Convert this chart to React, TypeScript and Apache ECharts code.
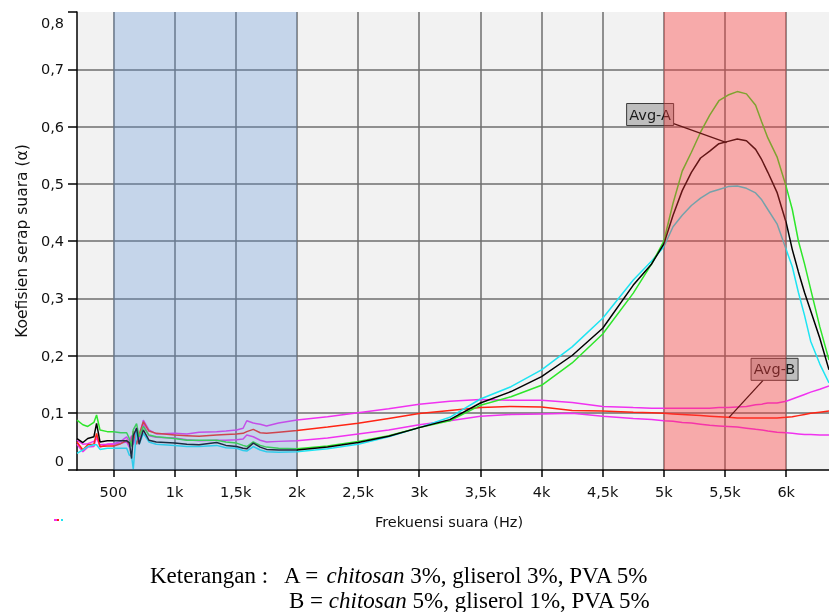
import React, { useEffect, useRef } from 'react';
import * as echarts from 'echarts';

// Frequency sample points (Hz)
const freqs = [202, 250, 290, 340, 362, 390, 450, 500, 560, 608,
  630, 648, 662, 689, 710, 744, 790, 850, 1000, 1100,
  1200, 1343, 1420, 1506, 1560, 1590, 1643, 1700, 1752, 1850,
  2000, 2250, 2500, 2750, 3000, 3250, 3500, 3750, 4000, 4250,
  4500, 4750, 4900, 5000, 5075, 5150, 5225, 5300, 5375, 5450,
  5525, 5600, 5675, 5750, 5800, 5850, 5925, 6000, 6050, 6100,
  6150, 6200, 6275, 6350];

// Sample A (green)
const sampleA1 = [0.087, 0.079, 0.076, 0.083, 0.096, 0.070, 0.067, 0.067, 0.065, 0.065,
  0.055, 0.041, 0.070, 0.081, 0.058, 0.076, 0.061, 0.058, 0.055, 0.052,
  0.052, 0.052, 0.049, 0.047, 0.043, 0.041, 0.049, 0.043, 0.040, 0.038,
  0.037, 0.042, 0.050, 0.060, 0.074, 0.086, 0.113, 0.128, 0.148, 0.187,
  0.2375, 0.309, 0.360, 0.400, 0.466, 0.522, 0.555, 0.590, 0.620, 0.645,
  0.655, 0.661, 0.657, 0.637, 0.608, 0.580, 0.547, 0.495, 0.455, 0.400,
  0.360, 0.316, 0.250, 0.192];

// Avg-A (black)
const avgA = [0.055, 0.048, 0.055, 0.058, 0.0815, 0.049, 0.051, 0.051, 0.051, 0.051,
  0.048, 0.020, 0.060, 0.073, 0.045, 0.070, 0.052, 0.049, 0.047, 0.045,
  0.044, 0.048, 0.043, 0.041, 0.038, 0.037, 0.047, 0.040, 0.036, 0.035,
  0.035, 0.040, 0.048, 0.059, 0.074, 0.088, 0.117, 0.137, 0.163, 0.200,
  0.2475, 0.323, 0.360, 0.395, 0.445, 0.488, 0.520, 0.545, 0.557, 0.570,
  0.574, 0.578, 0.575, 0.560, 0.542, 0.520, 0.485, 0.432, 0.385, 0.346,
  0.310, 0.278, 0.230, 0.175];

// Sample A (cyan)
const sampleA2 = [0.029, 0.035, 0.041, 0.044, 0.044, 0.036, 0.038, 0.038, 0.038, 0.038,
  0.026, 0.024, 0.002, 0.070, 0.045, 0.064, 0.049, 0.045, 0.043, 0.041,
  0.041, 0.043, 0.039, 0.038, 0.034, 0.033, 0.041, 0.035, 0.032, 0.031,
  0.032, 0.037, 0.045, 0.058, 0.074, 0.092, 0.124, 0.1455, 0.175, 0.215,
  0.265, 0.332, 0.365, 0.390, 0.425, 0.445, 0.462, 0.475, 0.485, 0.490,
  0.495, 0.496, 0.492, 0.484, 0.472, 0.455, 0.430, 0.385, 0.355, 0.310,
  0.270, 0.225, 0.185, 0.152];

// Sample B (upper magenta)
const sampleB1 = [0.052, 0.045, 0.046, 0.050, 0.055, 0.044, 0.045, 0.046, 0.050, 0.058,
  0.050, 0.060, 0.045, 0.065, 0.050, 0.087, 0.070, 0.063, 0.064, 0.063,
  0.066, 0.067, 0.068, 0.070, 0.073, 0.086, 0.082, 0.080, 0.077, 0.082,
  0.0875, 0.093, 0.100, 0.107, 0.115, 0.120, 0.123, 0.122, 0.122, 0.118,
  0.111, 0.109, 0.108, 0.108, 0.108, 0.108, 0.108, 0.108, 0.108, 0.109,
  0.109, 0.110, 0.111, 0.114, 0.115, 0.117, 0.117, 0.120, 0.124, 0.128,
  0.132, 0.136, 0.141, 0.147];

// Avg-B (red)
const avgB = [0.049, 0.035, 0.044, 0.045, 0.064, 0.041, 0.042, 0.042, 0.046, 0.052,
  0.045, 0.050, 0.068, 0.045, 0.062, 0.0845, 0.068, 0.064, 0.061, 0.060,
  0.059, 0.061, 0.062, 0.063, 0.064, 0.067, 0.071, 0.065, 0.064, 0.066,
  0.069, 0.075, 0.0815, 0.090, 0.0985, 0.104, 0.109, 0.111, 0.110, 0.104,
  0.103, 0.101, 0.100, 0.099, 0.098, 0.097, 0.096, 0.095, 0.094, 0.093,
  0.092, 0.091, 0.091, 0.091, 0.091, 0.091, 0.091, 0.092, 0.093, 0.095,
  0.097, 0.099, 0.101, 0.103];

// Sample B (lower magenta)
const sampleB2 = [0.045, 0.032, 0.040, 0.041, 0.060, 0.040, 0.045, 0.045, 0.047, 0.049,
  0.040, 0.058, 0.045, 0.075, 0.055, 0.080, 0.060, 0.057, 0.056, 0.053,
  0.051, 0.052, 0.052, 0.053, 0.054, 0.061, 0.058, 0.052, 0.049, 0.050,
  0.051, 0.056, 0.063, 0.070, 0.079, 0.086, 0.094, 0.097, 0.098, 0.099,
  0.094, 0.090, 0.088, 0.086, 0.085, 0.083, 0.082, 0.080, 0.078, 0.077,
  0.076, 0.075, 0.073, 0.071, 0.070, 0.068, 0.066, 0.065, 0.064, 0.063,
  0.062, 0.062, 0.061, 0.061];

const xTicks = [500, 1000, 1500, 2000, 2500, 3000, 3500, 4000, 4500, 5000, 5500, 6000];
const bandLow = [500, 2000];
const bandHigh = [5000, 6000];
const xMin = 202;
const xMax = 6350;
const yMax = 0.8;

// annotation anchors [freq, value]
const avgALabelAt = [5513, 0.572];
const avgBLabelAt = [5533, 0.092];

const SANS = '"DejaVu Sans", Verdana, sans-serif';
const SERIF = '"Liberation Serif", "Times New Roman", serif';
const FS = 14.5;

export default function App() {
  const ref = useRef<HTMLDivElement>(null);
  useEffect(() => {
    const chart = echarts.init(ref.current!, null, { renderer: 'svg' });
    const line = (name: string, vals: number[], color: string, z: number) => ({
      type: 'line',
      name,
      data: freqs.map((f, i) => [f, vals[i]]),
      symbol: 'none',
      showSymbol: false,
      silent: true,
      z,
      lineStyle: { color, width: 1.5 },
      itemStyle: { color },
    });
    const band = (range: number[], color: string) => ({
      type: 'line',
      data: [[range[0], yMax], [range[1], yMax]],
      symbol: 'none',
      showSymbol: false,
      silent: true,
      z: 10,
      lineStyle: { width: 0, opacity: 0 },
      areaStyle: { color, opacity: 1, origin: 'start' },
    });
    chart.setOption({
      animation: false,
      grid: { left: 77, right: 0, top: 12, bottom: 142, show: true, backgroundColor: '#f2f2f2', borderWidth: 0 },
      xAxis: {
        type: 'value',
        min: xMin,
        max: xMax,
        name: 'Frekuensi suara (Hz)',
        nameLocation: 'middle',
        nameGap: 44,
        nameTextStyle: { fontFamily: SANS, fontSize: FS, color: '#111', padding: [0, 8, 0, 0] },
        axisLine: { show: true, onZero: false, lineStyle: { color: '#000', width: 1.5 } },
        axisTick: { show: true, length: 7, customValues: xTicks, lineStyle: { color: '#000', width: 1.5 } },
        axisLabel: {
          customValues: xTicks,
          margin: 14,
          fontFamily: SANS,
          fontSize: FS,
          color: '#111',
          formatter: (v: number) => (v < 1000 ? String(v) : String(v / 1000).replace('.', ',') + 'k'),
        },
        splitLine: { show: true, lineStyle: { color: '#6e6e6e', width: 1.5 } },
      },
      yAxis: {
        type: 'value',
        min: 0,
        max: yMax,
        interval: 0.1,
        name: 'Koefisien serap suara (α)',
        nameLocation: 'middle',
        nameGap: 47,
        nameTextStyle: { fontFamily: SANS, fontSize: 15.5, color: '#111' },
        axisLine: { show: true, lineStyle: { color: '#000', width: 1.5 } },
        axisTick: { show: true, length: 9, lineStyle: { color: '#000', width: 1.5 } },
        axisLabel: {
          margin: 13,
          fontFamily: SANS,
          fontSize: FS,
          color: '#111',
          formatter: (v: number) => {
            if (Math.abs(v) < 1e-9) return '{lo|0}';
            const s = v.toFixed(1).replace('.', ',');
            if (Math.abs(v - yMax) < 1e-6) return '{hi|' + s + '}';
            return s;
          },
          rich: {
            lo: { fontFamily: SANS, fontSize: FS, color: '#111', padding: [0, 0, 18, 0] },
            hi: { fontFamily: SANS, fontSize: FS, color: '#111', padding: [22, 0, 0, 0] },
          },
        },
        splitLine: { show: true, showMinLine: false, showMaxLine: false, lineStyle: { color: '#6e6e6e', width: 1.5 } },
      },
      series: [
        line('B upper', sampleB1, '#f032f0', 2),
        line('B lower', sampleB2, '#f032f0', 2),
        line('Avg-B', avgB, '#ff2414', 3),
        line('A cyan', sampleA2, '#1ee4f2', 3),
        line('A green', sampleA1, '#2ee62a', 3),
        line('Avg-A', avgA, '#000000', 4),
        band(bandLow, 'rgba(92,145,215,0.3)'),
        band(bandHigh, 'rgba(255,57,57,0.39)'),
      ],
    });

    const pa = chart.convertToPixel({ gridIndex: 0 }, avgALabelAt) as number[];
    const pb = chart.convertToPixel({ gridIndex: 0 }, avgBLabelAt) as number[];
    const boxStyle = { fill: 'rgba(120,120,120,0.42)', stroke: '#3a3a3a', lineWidth: 1 };
    const textStyle = (t: string, x: number, y: number) => ({
      type: 'text', z: 6, silent: true,
      style: { text: t, x, y, align: 'center', verticalAlign: 'middle', font: FS + 'px ' + SANS, fill: '#1a1a1a' },
    });
    const serifRich = {
      n: { fontFamily: SERIF, fontSize: 23, fill: '#000' },
      i: { fontFamily: SERIF, fontSize: 23, fontStyle: 'italic', fill: '#000' },
    };
    chart.setOption({
      graphic: [
        { type: 'line', z: 5, silent: true, shape: { x1: pa[0] - 53, y1: pa[1] - 19, x2: pa[0], y2: pa[1] }, style: { stroke: '#000', lineWidth: 1.3 } },
        { type: 'rect', z: 5, silent: true, shape: { x: pa[0] - 100, y: pa[1] - 39, width: 47, height: 22 }, style: boxStyle },
        textStyle('Avg-A', pa[0] - 76.5, pa[1] - 28),
        { type: 'line', z: 5, silent: true, shape: { x1: pb[0] + 34, y1: pb[1] - 37, x2: pb[0], y2: pb[1] }, style: { stroke: '#000', lineWidth: 1.3 } },
        { type: 'rect', z: 5, silent: true, shape: { x: pb[0] + 22, y: pb[1] - 59, width: 47, height: 22 }, style: boxStyle },
        textStyle('Avg-B', pb[0] + 45.5, pb[1] - 48),
        // cropped legend remnant
        { type: 'line', z: 5, silent: true, shape: { x1: 54, y1: 520, x2: 57, y2: 520 }, style: { stroke: '#f032f0', lineWidth: 2 } },
        { type: 'line', z: 5, silent: true, shape: { x1: 57, y1: 520, x2: 59, y2: 520 }, style: { stroke: '#ff2414', lineWidth: 2 } },
        { type: 'line', z: 5, silent: true, shape: { x1: 61, y1: 520, x2: 63, y2: 520 }, style: { stroke: '#1ee4f2', lineWidth: 2 } },
        {
          type: 'text', z: 5, silent: true,
          style: {
            x: 150, y: 575, verticalAlign: 'middle',
            text: '{n|Keterangan :   A = }{i|chitosan}{n| 3%, gliserol 3%, PVA 5%}',
            rich: serifRich,
          },
        },
        {
          type: 'text', z: 5, silent: true,
          style: {
            x: 289, y: 600, verticalAlign: 'middle',
            text: '{n|B = }{i|chitosan}{n| 5%, gliserol 1%, PVA 5%}',
            rich: serifRich,
          },
        },
      ],
    });
    return () => chart.dispose();
  }, []);
  return <div ref={ref} style={{ position: 'fixed', left: 0, top: 0, width: 829, height: 612 }} />;
}
